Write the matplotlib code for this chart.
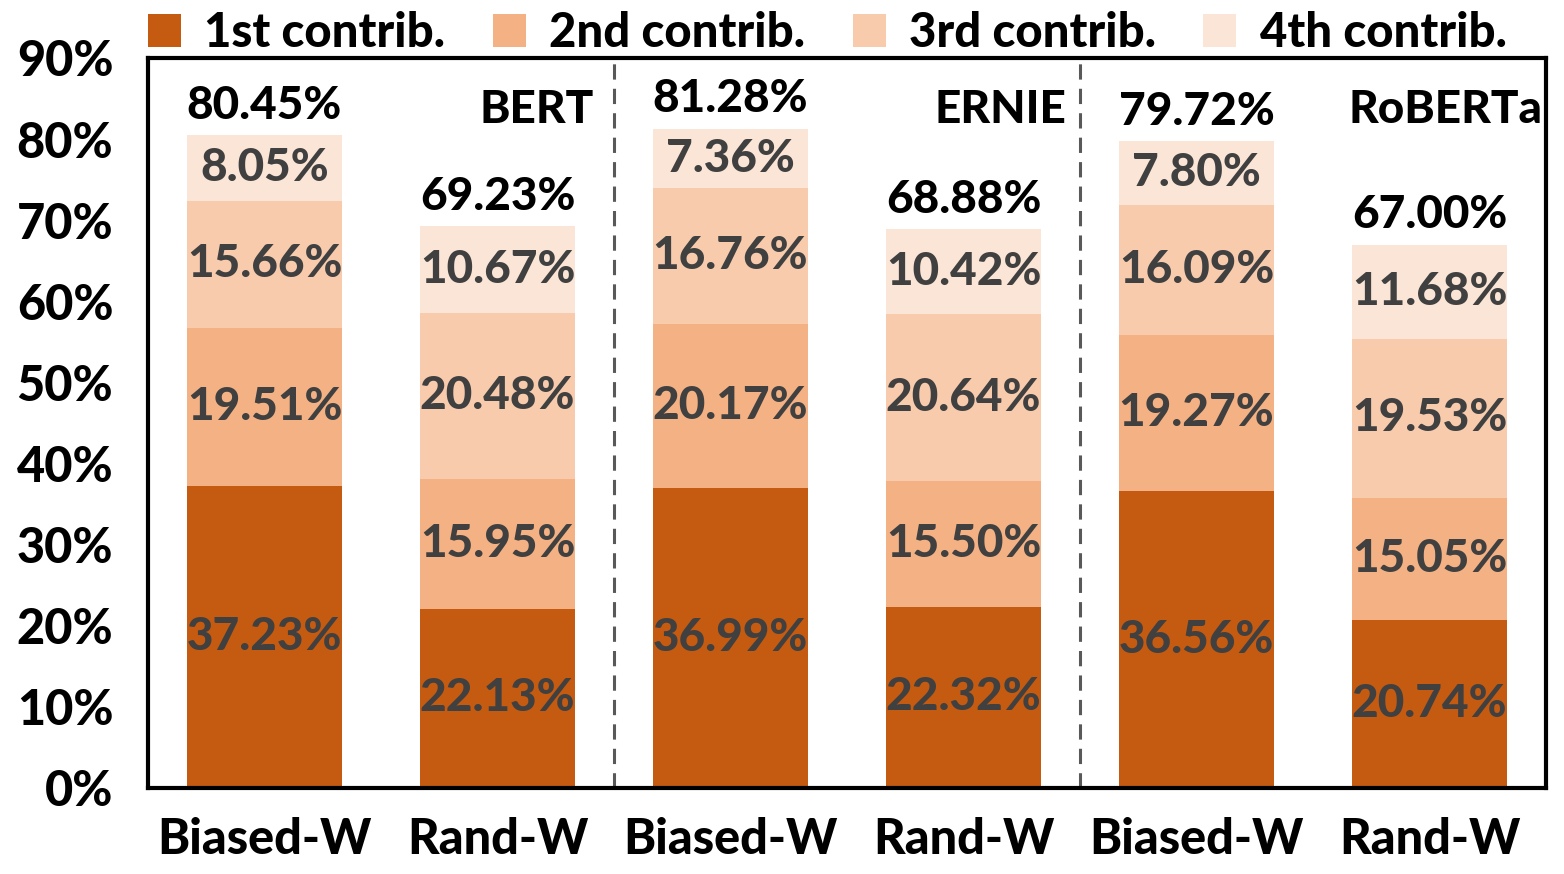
import matplotlib
matplotlib.use("Agg")
import matplotlib.pyplot as plt
import numpy as np

plt.rcParams['font.family'] = ['Lato', 'DejaVu Sans']
plt.rcParams['font.weight'] = 'black'

categories = ["Biased-W", "Rand-W", "Biased-W", "Rand-W", "Biased-W", "Rand-W"]
models = ["BERT", "ERNIE", "RoBERTa"]
series_names = ["1st contrib.", "2nd contrib.", "3rd contrib.", "4th contrib."]
first = [37.23, 22.13, 36.99, 22.32, 36.56, 20.74]
second = [19.51, 15.95, 20.17, 15.50, 19.27, 15.05]
third = [15.66, 20.48, 16.76, 20.64, 16.09, 19.53]
fourth = [8.05, 10.67, 7.36, 10.42, 7.80, 11.68]
totals = [80.45, 69.23, 81.28, 68.88, 79.72, 67.00]
colors = ["#C55A11", "#F4B183", "#F8CBAD", "#FBE5D6"]

W = 'black'
fig = plt.figure(figsize=(15.64, 8.74), dpi=100)
ax = fig.add_axes([148/1564, 1-788/874, (1546-148)/1564, (788-58)/874])

x = np.arange(len(categories))
w = 0.665
bottom = np.zeros(len(categories))
for vals, c, name in zip([first, second, third, fourth], colors, series_names):
    vals = np.array(vals)
    ax.bar(x, vals, w, bottom=bottom, color=c, label=name, zorder=2)
    for xi, b, v in zip(x, bottom, vals):
        ax.text(xi, b + v/2, f"{v:.2f}%", ha='center', va='center',
                fontsize=33, fontweight=W, color='#404040', zorder=3)
    bottom += vals

for xi, t in zip(x, totals):
    ax.annotate(f"{t:.2f}%", (xi, t), xytext=(0, 6), textcoords='offset points',
                ha='center', va='bottom', fontsize=33, fontweight=W, color='black')

model_x = [1.17, 3.16, 5.07]
for mx, m in zip(model_x, models):
    ax.text(mx, 83.6, m, ha='center', va='center', fontsize=33,
            fontweight=W, color='black', clip_on=False)

for dx in [1.5, 3.5]:
    ax.axvline(dx, color='#595959', linestyle=(0, (5, 3)), linewidth=2.2, zorder=1)

ax.set_xlim(-0.5, 5.5)
ax.set_ylim(0, 90)
ax.set_yticks(np.arange(0, 91, 10))
ax.set_yticklabels([f"{v}%" for v in range(0, 91, 10)], fontsize=35, fontweight=W)
ax.set_xticks(x)
ax.set_xticklabels(categories, fontsize=35, fontweight=W)
ax.tick_params(length=0)
ax.tick_params(axis='x', pad=21)
ax.tick_params(axis='y', pad=25)
for s in ax.spines.values():
    s.set_linewidth(3)
    s.set_color('black')

leg = fig.legend(loc='center', bbox_to_anchor=(0.529, 1-33/874), ncol=4, frameon=False,
                 handlelength=0.7, handleheight=0.7, handletextpad=0.5,
                 columnspacing=1.0, prop={'weight': W, 'size': 34})

fig.savefig("out.png", dpi=100)
